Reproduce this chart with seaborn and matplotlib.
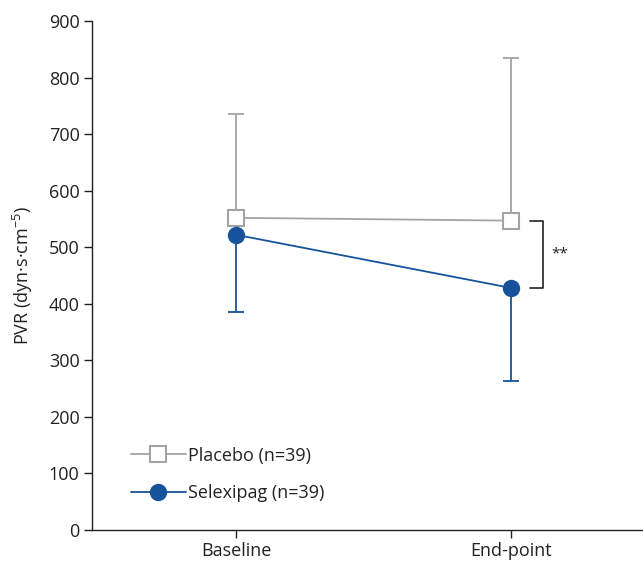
import matplotlib
matplotlib.use("Agg")
import matplotlib.pyplot as plt
import seaborn as sns
import pandas as pd
import numpy as np

# Data
timepoints = ["Baseline", "End-point"]
placebo_mean = [552, 547]
placebo_upper = [735, 834]
selexipag_mean = [522, 428]
selexipag_lower = [386, 264]
series_names = ["Placebo (n=39)", "Selexipag (n=39)"]
yticks = [0, 100, 200, 300, 400, 500, 600, 700, 800, 900]

sns.set_style("ticks")
plt.rcParams["font.family"] = ["Open Sans", "DejaVu Sans"]
plt.rcParams["mathtext.fontset"] = "custom"
plt.rcParams["mathtext.rm"] = "Open Sans"
plt.rcParams["mathtext.it"] = "Open Sans"

gray = "#a3a3a3"
blue = "#17539c"
dark = "#222222"
FS = 13

fig = plt.figure(figsize=(6.43, 5.64), dpi=100)
ax = fig.add_axes([92 / 643, 34 / 564, 1 - 92 / 643, 509 / 564])

x = np.arange(len(timepoints))
df = pd.DataFrame({
    "x": np.concatenate([x, x]),
    "PVR": placebo_mean + selexipag_mean,
    "group": [series_names[0]] * 2 + [series_names[1]] * 2,
})

# error bars (one-sided)
ax.errorbar(x, placebo_mean,
            yerr=[np.zeros(2), np.array(placebo_upper) - np.array(placebo_mean)],
            fmt="none", ecolor=gray, elinewidth=1.3, capsize=5.5, capthick=1.3, zorder=1)
ax.errorbar(x, selexipag_mean,
            yerr=[np.array(selexipag_mean) - np.array(selexipag_lower), np.zeros(2)],
            fmt="none", ecolor=blue, elinewidth=1.3, capsize=5.5, capthick=1.3, zorder=1)

sns.lineplot(data=df[df.group == series_names[0]], x="x", y="PVR", ax=ax,
             color=gray, linewidth=1.3, marker="s", markersize=11,
             markerfacecolor="white", markeredgecolor=gray, markeredgewidth=1.5,
             label=series_names[0], zorder=3)
sns.lineplot(data=df[df.group == series_names[1]], x="x", y="PVR", ax=ax,
             color=blue, linewidth=1.3, marker="o", markersize=12.5,
             markerfacecolor=blue, markeredgecolor=blue, markeredgewidth=0,
             label=series_names[1], zorder=4)

ax.set_xlim(-0.524, 1.48)
ax.set_ylim(0, 900)
ax.set_yticks(yticks)
ax.set_xticks(x)
ax.set_xticklabels(timepoints)
ax.set_xlabel("")
ax.set_ylabel("PVR (dyn·s·cm$^{-5}$)", fontsize=FS, color=dark, labelpad=10)
ax.tick_params(axis="both", labelsize=FS, colors=dark, length=6, width=1, direction="out", pad=3)
for s in ["top", "right"]:
    ax.spines[s].set_visible(False)
for s in ["left", "bottom"]:
    ax.spines[s].set_color(dark)
    ax.spines[s].set_linewidth(1)

# significance bracket
bx0, bx1 = 1.07, 1.115
ax.plot([bx0, bx1, bx1, bx0], [placebo_mean[1], placebo_mean[1], selexipag_mean[1], selexipag_mean[1]],
        color=dark, linewidth=1.2, clip_on=False)
ax.text(bx1 + 0.03, (placebo_mean[1] + selexipag_mean[1]) / 2, "**", fontsize=11,
        ha="left", va="center", color=dark)

leg = ax.legend(loc="lower left", bbox_to_anchor=(0.042, 0.023), frameon=False, fontsize=FS,
                handlelength=3.0, handletextpad=0.15, labelspacing=1.07, numpoints=1)
for t in leg.get_texts():
    t.set_color(dark)

fig.savefig("out.png", dpi=100)
